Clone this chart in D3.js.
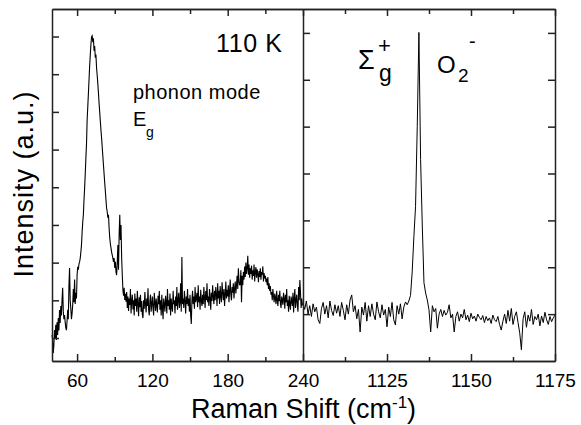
<!DOCTYPE html>
<html>
<head>
<meta charset="utf-8">
<script src="https://cdn.jsdelivr.net/npm/d3@7"></script>
<style>
  body { margin: 0; background: #fff; }
  svg { display: block; font-family: "Liberation Sans", Arial, sans-serif; }
  .axis path, .axis line { stroke: #222; stroke-width: 1.5; }
  .axis text { font-size: 19px; fill: #000; font-family: "Liberation Sans", Arial, sans-serif; }
</style>
</head>
<body>
<svg id="chart" width="581" height="425"></svg>
<script>
// low-frequency part, 40 -> 240 cm-1, sampled every 0.5 cm-1
const lowStart = 40, lowStep = 0.5;
const lowIntensity = [
  108, 95, 60, 81, 121, 100, 135, 95, 142, 108,
  153, 120, 174, 140, 185, 160, 200, 233, 170, 150,
  161, 142, 127, 121, 145, 175, 150, 240, 286, 200,
  178, 150, 165, 188, 230, 195, 255, 190, 220, 205,
  267, 289, 281, 297, 302, 312, 328, 347, 381, 408,
  427, 467, 498, 536, 578, 615, 679, 713, 748, 785,
  822, 851, 878, 899, 902, 885, 895, 862, 875, 844,
  852, 817, 798, 775, 751, 724, 700, 676, 652, 631,
  607, 583, 559, 536, 512, 490, 467, 445, 435, 419,
  427, 392, 366, 350, 339, 328, 320, 312, 302, 312,
  286, 302, 275, 267, 302, 347, 281, 374, 427, 360,
  400, 312, 267, 228, 212, 233, 201, 217, 196, 222,
  180, 210, 172, 205, 188, 230, 165, 198, 215, 176,
  200, 160, 218, 185, 205, 170, 225, 190, 158, 208,
  182, 215, 170, 198, 162, 153, 200, 178, 222, 190,
  168, 205, 185, 232, 175, 160, 198, 215, 170, 190,
  210, 178, 160, 220, 195, 172, 205, 185, 168, 212,
  190, 225, 175, 200, 160, 215, 180, 150, 205, 188,
  170, 212, 195, 165, 230, 185, 200, 175, 218, 160,
  205, 182, 170, 225, 190, 200, 165, 210, 185, 235,
  175, 200, 220, 180, 195, 245, 170, 315, 190, 205,
  180, 225, 200, 165, 210, 190, 230, 185, 205, 170,
  215, 160, 137, 200, 225, 190, 210, 178, 235, 195,
  205, 220, 182, 240, 195, 210, 175, 228, 200, 185,
  215, 190, 235, 205, 180, 225, 200, 245, 195, 210,
  185, 230, 205, 175, 220, 198, 240, 210, 190, 225,
  200, 235, 215, 185, 245, 205, 225, 190, 238, 210,
  195, 248, 220, 200, 230, 185, 215, 250, 205, 228,
  210, 240, 195, 225, 255, 215, 200, 235, 220, 245,
  205, 232, 250, 218, 240, 265, 230, 285, 250, 240,
  245, 280, 195, 265, 240, 275, 255, 290, 262, 300,
  270, 285, 318, 268, 295, 260, 285, 270, 292, 255,
  280, 265, 295, 250, 275, 288, 260, 282, 270, 248,
  278, 262, 285, 255, 275, 268, 290, 250, 272, 258,
  265, 248, 258, 240, 262, 230, 245, 225, 238, 215,
  222, 200, 230, 210, 195, 218, 205, 190, 225, 200,
  185, 215, 198, 225, 192, 180, 210, 200, 188, 220,
  205, 178, 215, 195, 230, 185, 200, 170, 212, 190,
  175, 210, 198, 185, 220, 168, 205, 230, 180, 200,
  215, 185, 170, 235, 200, 254, 220, 180, 205, 188,
  188
];

// O2- stretching region, 1100 -> 1175 cm-1, sampled every 0.5 cm-1
const highStart = 1100, highStep = 0.5;
const highIntensity = [
  124, 110, 128, 100, 118, 95, 122, 105, 115, 88,
  80, 112, 125, 100, 118, 92, 128, 108, 97, 120,
  102, 118, 95, 125, 108, 88, 120, 100, 130, 141,
  105, 118, 90, 110, 62, 115, 98, 125, 85, 118,
  95, 122, 100, 88, 126, 105, 92, 120, 98, 110,
  73, 115, 95, 125, 88, 77, 118, 100, 122, 90,
  115, 126, 120, 128, 140, 190, 265, 330, 500, 701,
  430, 290, 167, 145, 130, 109, 62, 118, 105, 112,
  70, 100, 110, 95, 108, 98, 104, 120, 92, 100,
  62, 95, 105, 85, 100, 92, 110, 88, 98, 84,
  102, 90, 96, 85, 100, 93, 88, 97, 82, 95,
  86, 92, 80, 98, 88, 84, 95, 78, 66, 85,
  100, 80, 108, 85, 112, 78, 95, 105, 82, 60,
  24, 90, 105, 72, 98, 85, 110, 78, 95, 88,
  100, 75, 96, 82, 104, 88, 78, 95, 84, 92,
  98
];

const lowMajor = [60, 120, 180, 240];
const lowMinor = [90, 150, 210];
const highMajor = [1125, 1150, 1175];
const highMinor = [1112.5, 1137.5, 1162.5];
const lowYTicks = [100, 200, 300, 400, 500, 600, 700, 800, 900];
const highYTicks = [100, 200, 300, 400, 500, 600, 700];

const lowData = lowIntensity.map((v, i) => ({x: lowStart + i * lowStep, y: v}));
const highData = highIntensity.map((v, i) => ({x: highStart + i * highStep, y: v}));

const plotTop = 9, plotBottom = 361, plotLeft = 52, plotMid = 303, plotRight = 555;

const svg = d3.select('#chart');

let xL = d3.scaleLinear().domain([40, 240]).range([plotLeft, plotMid]);
let xR = d3.scaleLinear().domain([1100, 1175]).range([plotMid, plotRight]);
let yL = d3.scaleLinear().domain([39, 973]).range([plotBottom, plotTop]);
let yR = d3.scaleLinear().domain([0, 751]).range([plotBottom, plotTop]);

// spectra
svg.append('path')
    .datum(lowData)
    .attr('fill', 'none')
    .attr('stroke', '#000')
    .attr('stroke-width', 1.1)
    .attr('d', d3.line().x(d => xL(d.x)).y(d => yL(d.y)));

svg.append('path')
    .datum(highData)
    .attr('fill', 'none')
    .attr('stroke', '#000')
    .attr('stroke-width', 1)
    .attr('d', d3.line().x(d => xR(d.x)).y(d => yR(d.y)));

// axes, ticks pointing inward
function addAxis(axis, tx, ty, labels) {
    let g = svg.append('g')
        .attr('class', 'axis')
        .attr('transform', `translate(${tx}, ${ty})`)
        .call(axis);
    if (!labels) g.selectAll('text').remove();
    return g;
}

const fmt = d3.format('d');

addAxis(d3.axisBottom(xL).tickValues(lowMajor).tickFormat(fmt).tickSize(-7).tickSizeOuter(0).tickPadding(13), 0, plotBottom, true);
addAxis(d3.axisBottom(xL).tickValues(lowMinor).tickSize(-4).tickSizeOuter(0), 0, plotBottom, false);
addAxis(d3.axisBottom(xR).tickValues(highMajor).tickFormat(fmt).tickSize(-7).tickSizeOuter(0).tickPadding(13), 0, plotBottom, true);
addAxis(d3.axisBottom(xR).tickValues(highMinor).tickSize(-4).tickSizeOuter(0), 0, plotBottom, false);

addAxis(d3.axisTop(xL).tickValues(lowMajor).tickSize(-7).tickSizeOuter(0), 0, plotTop, false);
addAxis(d3.axisTop(xL).tickValues(lowMinor).tickSize(-5).tickSizeOuter(0), 0, plotTop, false);
addAxis(d3.axisTop(xR).tickValues(highMajor).tickSize(-7).tickSizeOuter(0), 0, plotTop, false);
addAxis(d3.axisTop(xR).tickValues(highMinor).tickSize(-5).tickSizeOuter(0), 0, plotTop, false);

addAxis(d3.axisLeft(yL).tickValues(lowYTicks).tickSize(-7).tickSizeOuter(0), plotLeft, 0, false);
addAxis(d3.axisLeft(yR).tickValues(highYTicks).tickSize(-7).tickSizeOuter(0), plotMid, 0, false);
addAxis(d3.axisRight(yR).tickValues(highYTicks).tickSize(-7).tickSizeOuter(0), plotRight, 0, false);

// axis titles
svg.append('text')
    .attr('x', 303.5)
    .attr('y', 418)
    .attr('text-anchor', 'middle')
    .style('font-size', '27px')
    .text('Raman Shift (cm')
    .call(t => t.append('tspan').attr('dy', -10).style('font-size', '17px').text('-1'))
    .call(t => t.append('tspan').attr('dy', 10).text(')'));

svg.append('text')
    .attr('transform', 'translate(33, 184) rotate(-90)')
    .attr('text-anchor', 'middle')
    .style('font-size', '27px')
    .style('letter-spacing', '1px')
    .text('Intensity (a.u.)');

// annotations
const label = (x, y, size, txt) => svg.append('text')
    .attr('x', x).attr('y', y)
    .style('font-size', size + 'px')
    .text(txt);

label(216, 52, 25, '110 K').style('letter-spacing', '0.6px');
label(133, 99, 20, 'phonon mode').style('letter-spacing', '0.5px');
label(133, 126, 20, 'E');
label(146, 137, 14, 'g');

label(358, 69, 27, '\u03A3');
label(378, 53, 22, '+');
label(379, 81, 23, 'g');

label(437, 73, 24, 'O');
label(458, 82, 19, '2');
label(469, 48, 20, '-');
</script>
</body>
</html>
